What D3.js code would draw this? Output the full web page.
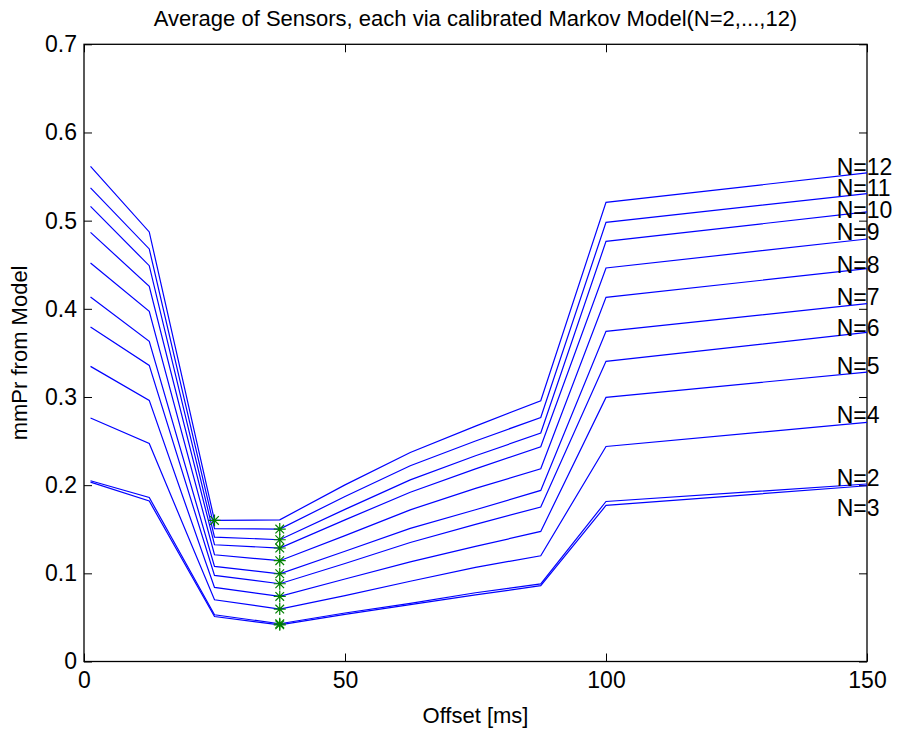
<!DOCTYPE html>
<html>
<head>
<meta charset="utf-8">
<script src="https://cdn.jsdelivr.net/npm/d3@7"></script>
<style>
  body { margin: 0; background: #fff; }
  svg { font-family: "Liberation Sans", Arial, sans-serif; }
  .tick text { fill: #000; }
</style>
</head>
<body>
<svg id="chart" width="901" height="729"></svg>
<script>
// offsets on the x axis [ms]
const offsets = [1.25, 12.5, 25, 37.5, 50, 62.5, 75, 87.5, 100, 150]
// model orders
const orders = [2, 3, 4, 5, 6, 7, 8, 9, 10, 11, 12]
// mmPr per order, one value per offset
const n2  = [0.2050, 0.186, 0.053, 0.0428, 0.055, 0.066, 0.078, 0.088, 0.1815, 0.2013]
const n3  = [0.2035, 0.182, 0.051, 0.0416, 0.0535, 0.0645, 0.0755, 0.086, 0.1770, 0.1993]
const n4  = [0.2762, 0.2473, 0.070, 0.0595, 0.0747, 0.091, 0.1068, 0.1199, 0.2439, 0.2712]
const n5  = [0.3347, 0.2961, 0.084, 0.0738, 0.0936, 0.113, 0.1305, 0.1475, 0.2995, 0.3283]
const n6  = [0.3794, 0.3358, 0.0976, 0.0882, 0.1112, 0.135, 0.1556, 0.1752, 0.3404, 0.3733]
const n7  = [0.4134, 0.3631, 0.1078, 0.0995, 0.1250, 0.151, 0.1721, 0.1940, 0.3744, 0.4058]
const n8  = [0.4520, 0.3971, 0.1211, 0.1143, 0.1427, 0.172, 0.1963, 0.2186, 0.4130, 0.4455]
const n9  = [0.4867, 0.4255, 0.1324, 0.1287, 0.1606, 0.192, 0.2184, 0.2435, 0.4463, 0.4792]
const n10 = [0.5162, 0.4489, 0.1411, 0.1381, 0.1725, 0.206, 0.2333, 0.2591, 0.4765, 0.5099]
const n11 = [0.5371, 0.4679, 0.1506, 0.1502, 0.1872, 0.222, 0.2501, 0.2768, 0.4981, 0.5306]
const n12 = [0.5616, 0.4872, 0.1600, 0.1607, 0.2003, 0.237, 0.2669, 0.2958, 0.5208, 0.5541]
const series = [n2, n3, n4, n5, n6, n7, n8, n9, n10, n11, n12]
// where the "N=.." labels sit (x in ms, y in mmPr)
const labelX = 144.2
const labelY = [0.208, 0.174, 0.280, 0.335, 0.379, 0.414, 0.450, 0.488, 0.512, 0.537, 0.561]
const xTicks = [0, 50, 100, 150]
const yTicks = [0, 0.1, 0.2, 0.3, 0.4, 0.5, 0.6, 0.7]

const svg = d3.select("#chart")
const box = { left: 84, right: 867, top: 44.3, bottom: 661.5 }

const x = d3.scaleLinear().domain([0, 150]).range([box.left, box.right])
const y = d3.scaleLinear().domain([0, 0.7]).range([box.bottom, box.top])

// axes: ticks point inwards, on all four sides (box on)
const TICK = 8
svg.append("g")
  .attr("transform", "translate(0," + box.bottom + ")")
  .call(d3.axisBottom(x).tickValues(xTicks).tickSizeInner(-TICK).tickSizeOuter(0).tickPadding(10))
  .call(g => g.selectAll("text").attr("font-size", 23))
svg.append("g")
  .attr("transform", "translate(0," + box.top + ")")
  .call(d3.axisTop(x).tickValues(xTicks).tickSizeInner(-TICK).tickSizeOuter(0).tickFormat(""))
svg.append("g")
  .attr("transform", "translate(" + box.left + ",0)")
  .call(d3.axisLeft(y).tickValues(yTicks).tickSizeInner(-TICK).tickSizeOuter(0).tickPadding(7)
    .tickFormat(d => d === 0 ? "0" : d3.format(".1f")(d)))
  .call(g => g.selectAll("text").attr("font-size", 23))
svg.append("g")
  .attr("transform", "translate(" + box.right + ",0)")
  .call(d3.axisRight(y).tickValues(yTicks).tickSizeInner(-TICK).tickSizeOuter(0).tickFormat(""))

svg.selectAll(".domain").remove()
svg.selectAll(".tick line").attr("stroke", "#000")

// the axes box
svg.append("rect")
  .attr("x", box.left)
  .attr("y", box.top)
  .attr("width", box.right - box.left)
  .attr("height", box.bottom - box.top)
  .attr("fill", "none")
  .attr("stroke", "#000")
  .attr("stroke-width", 1.3)

const line = d3.line()
  .x((d, i) => x(offsets[i]))
  .y(d => y(d))

svg.append("g")
  .selectAll("path")
  .data(series)
  .join("path")
  .attr("d", line)
  .attr("fill", "none")
  .attr("stroke", "#0000ff")
  .attr("stroke-width", 1.2)

// green asterisk at each curve's minimum
const minima = series.map(s => {
  const i = d3.minIndex(s)
  return [offsets[i], s[i]]
})
const R = 6, D = R * 0.72
svg.append("g")
  .selectAll("path")
  .data(minima)
  .join("path")
  .attr("transform", d => "translate(" + x(d[0]) + "," + y(d[1]) + ")")
  .attr("d", "M" + -R + ",0H" + R + "M0," + -R + "V" + R +
    "M" + -D + "," + -D + "L" + D + "," + D + "M" + -D + "," + D + "L" + D + "," + -D)
  .attr("fill", "none")
  .attr("stroke", "#008000")
  .attr("stroke-width", 1.2)

// N=.. labels
svg.append("g")
  .selectAll("text")
  .data(orders)
  .join("text")
  .attr("x", x(labelX))
  .attr("y", (d, i) => y(labelY[i]))
  .attr("dy", "0.36em")
  .attr("font-size", 23)
  .text(d => "N=" + d)

svg.append("text")
  .attr("x", (box.left + box.right) / 2)
  .attr("y", 26)
  .attr("text-anchor", "middle")
  .attr("font-size", 22)
  .text("Average of Sensors, each via calibrated Markov Model(N=2,...,12)")

svg.append("text")
  .attr("x", (box.left + box.right) / 2)
  .attr("y", 723)
  .attr("text-anchor", "middle")
  .attr("font-size", 22)
  .text("Offset [ms]")

svg.append("text")
  .attr("transform", "translate(27," + (box.top + box.bottom) / 2 + ") rotate(-90)")
  .attr("text-anchor", "middle")
  .attr("font-size", 22)
  .text("mmPr from Model")
</script>
</body>
</html>
